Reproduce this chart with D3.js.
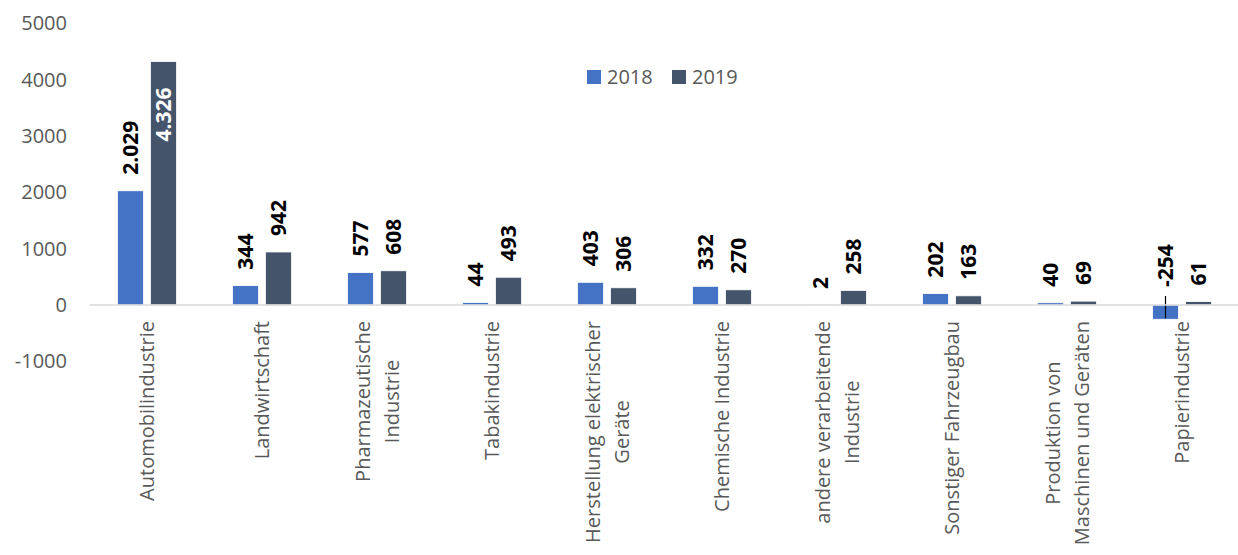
<!DOCTYPE html>
<html>
<head>
<meta charset="utf-8">
<script src="https://cdn.jsdelivr.net/npm/d3@7"></script>
<style>
  body { margin: 0; background: #fff; }
  svg { display: block; font-family: "Open Sans", sans-serif; }
</style>
</head>
<body>
<svg id="chart" width="1238" height="555"></svg>
<script>
const CATEGORIES = [
  ['Automobilindustrie'],
  ['Landwirtschaft'],
  ['Pharmazeutische', 'Industrie'],
  ['Tabakindustrie'],
  ['Herstellung elektrischer', 'Geräte'],
  ['Chemische Industrie'],
  ['andere verarbeitende', 'Industrie'],
  ['Sonstiger Fahrzeugbau'],
  ['Produktion von', 'Maschinen und Geräten'],
  ['Papierindustrie']
]
const SERIES = ['2018', '2019']
const VALUES_2018 = [2029, 344, 577, 44, 403, 332, 2, 202, 40, -254]
const VALUES_2019 = [4326, 942, 608, 493, 306, 270, 258, 163, 69, 61]
const Y_TICKS = [-1000, 0, 1000, 2000, 3000, 4000, 5000]

const COLORS = { '2018': '#4472C4', '2019': '#44546A' }
const TEXT = '#595959'

const svg = d3.select('#chart')
const names = CATEGORIES.map(c => c.join(' '))
const values = { '2018': VALUES_2018, '2019': VALUES_2019 }

const x = d3.scaleBand()
  .domain(names)
  .range([89.5, 1239.5])

const x1 = d3.scaleBand()
  .domain(SERIES)
  .range([-29.5, 29.5])
  .paddingInner(0.212)

const y = d3.scaleLinear()
  .domain([-1000, 5000])
  .range([361.3, 23.5])

const locale = d3.formatLocale({ decimal: ',', thousands: '.', grouping: [3], currency: ['', '€'], minus: '-' })
const fmt = locale.format(',d')
const tickFmt = locale.format('d')

// y axis labels (no line)
svg.append('g')
  .attr('transform', 'translate(67, 0)')
  .call(d3.axisLeft(y).tickValues(Y_TICKS).tickSize(0).tickPadding(0).tickFormat(tickFmt))
  .call(g => g.select('.domain').remove())
  .call(g => g.selectAll('text')
    .attr('fill', TEXT)
    .style('font-size', '20px')
    .style('font-family', '"Open Sans", sans-serif'))

// bars
const groups = svg.selectAll('.cat')
  .data(names)
  .join('g')
    .attr('class', 'cat')
    .attr('transform', d => `translate(${x(d) + x.bandwidth() / 2}, 0)`)

const rows = (name, i) => SERIES.map(s => ({ series: s, value: values[s][i] }))

groups.selectAll('rect')
  .data(rows)
  .join('rect')
    .attr('x', d => x1(d.series))
    .attr('width', x1.bandwidth())
    .attr('y', d => y(Math.max(0, d.value)))
    .attr('height', d => Math.abs(y(d.value) - y(0)))
    .attr('fill', d => COLORS[d.series])
    .attr('stroke', '#fff')
    .attr('stroke-width', 0.8)

// zero line
svg.append('line')
  .attr('x1', x.range()[0]).attr('x2', x.range()[1])
  .attr('y1', y(0)).attr('y2', y(0))
  .attr('stroke', '#d9d9d9')
  .attr('stroke-width', 1.5)

// data labels
groups.each(function(name, i) {
  const g = d3.select(this)
  rows(name, i).forEach(d => {
    const cx = x1(d.series) + x1.bandwidth() / 2
    const label = g.append('text')
      .text(fmt(d.value))
      .attr('dy', '0.36em')
      .style('font-size', '21px')
      .style('font-weight', 'bold')
      .attr('fill', '#000')
    const len = label.node().getComputedTextLength()
    let yPos = y(Math.max(0, d.value)) - 16
    let anchor = 'start'
    if (d.value < 0) {
      yPos = y(0) - 18
      g.append('line')
        .attr('x1', cx).attr('x2', cx)
        .attr('y1', y(0) - 9).attr('y2', y(d.value) - 1)
        .attr('stroke', '#000')
        .attr('stroke-width', 1.2)
    } else if (yPos - len < 0) {
      yPos = y(d.value) + 26
      anchor = 'end'
      label.attr('fill', '#fff')
    }
    label.attr('text-anchor', anchor)
      .attr('transform', `translate(${cx}, ${yPos}) rotate(-90)`)
  })
})

// category labels
groups.each(function(name, i) {
  const g = d3.select(this)
  const lines = CATEGORIES[i]
  const texts = lines.map((line, j) => g.append('text')
    .text(line)
    .attr('text-anchor', 'middle')
    .attr('dy', '0.36em')
    .attr('fill', TEXT)
    .style('font-size', '20px'))
  const maxLen = d3.max(texts, t => t.node().getComputedTextLength())
  const lineGap = 29
  texts.forEach((t, j) => {
    const off = (j - (lines.length - 1) / 2) * lineGap
    t.attr('transform', `translate(${off}, ${321 + maxLen / 2}) rotate(-90)`)
  })
})

// legend
const legend = svg.append('g')
  .attr('transform', 'translate(587, 70)')
const items = legend.selectAll('g')
  .data(SERIES)
  .join('g')
    .attr('transform', (d, i) => `translate(${i * 85}, 0)`)
items.append('rect')
  .attr('width', 14).attr('height', 14)
  .attr('fill', d => COLORS[d])
items.append('text')
  .attr('x', 20).attr('y', 7)
  .attr('dy', '0.36em')
  .attr('fill', TEXT)
  .style('font-size', '20px')
  .text(d => d)
</script>
</body>
</html>
